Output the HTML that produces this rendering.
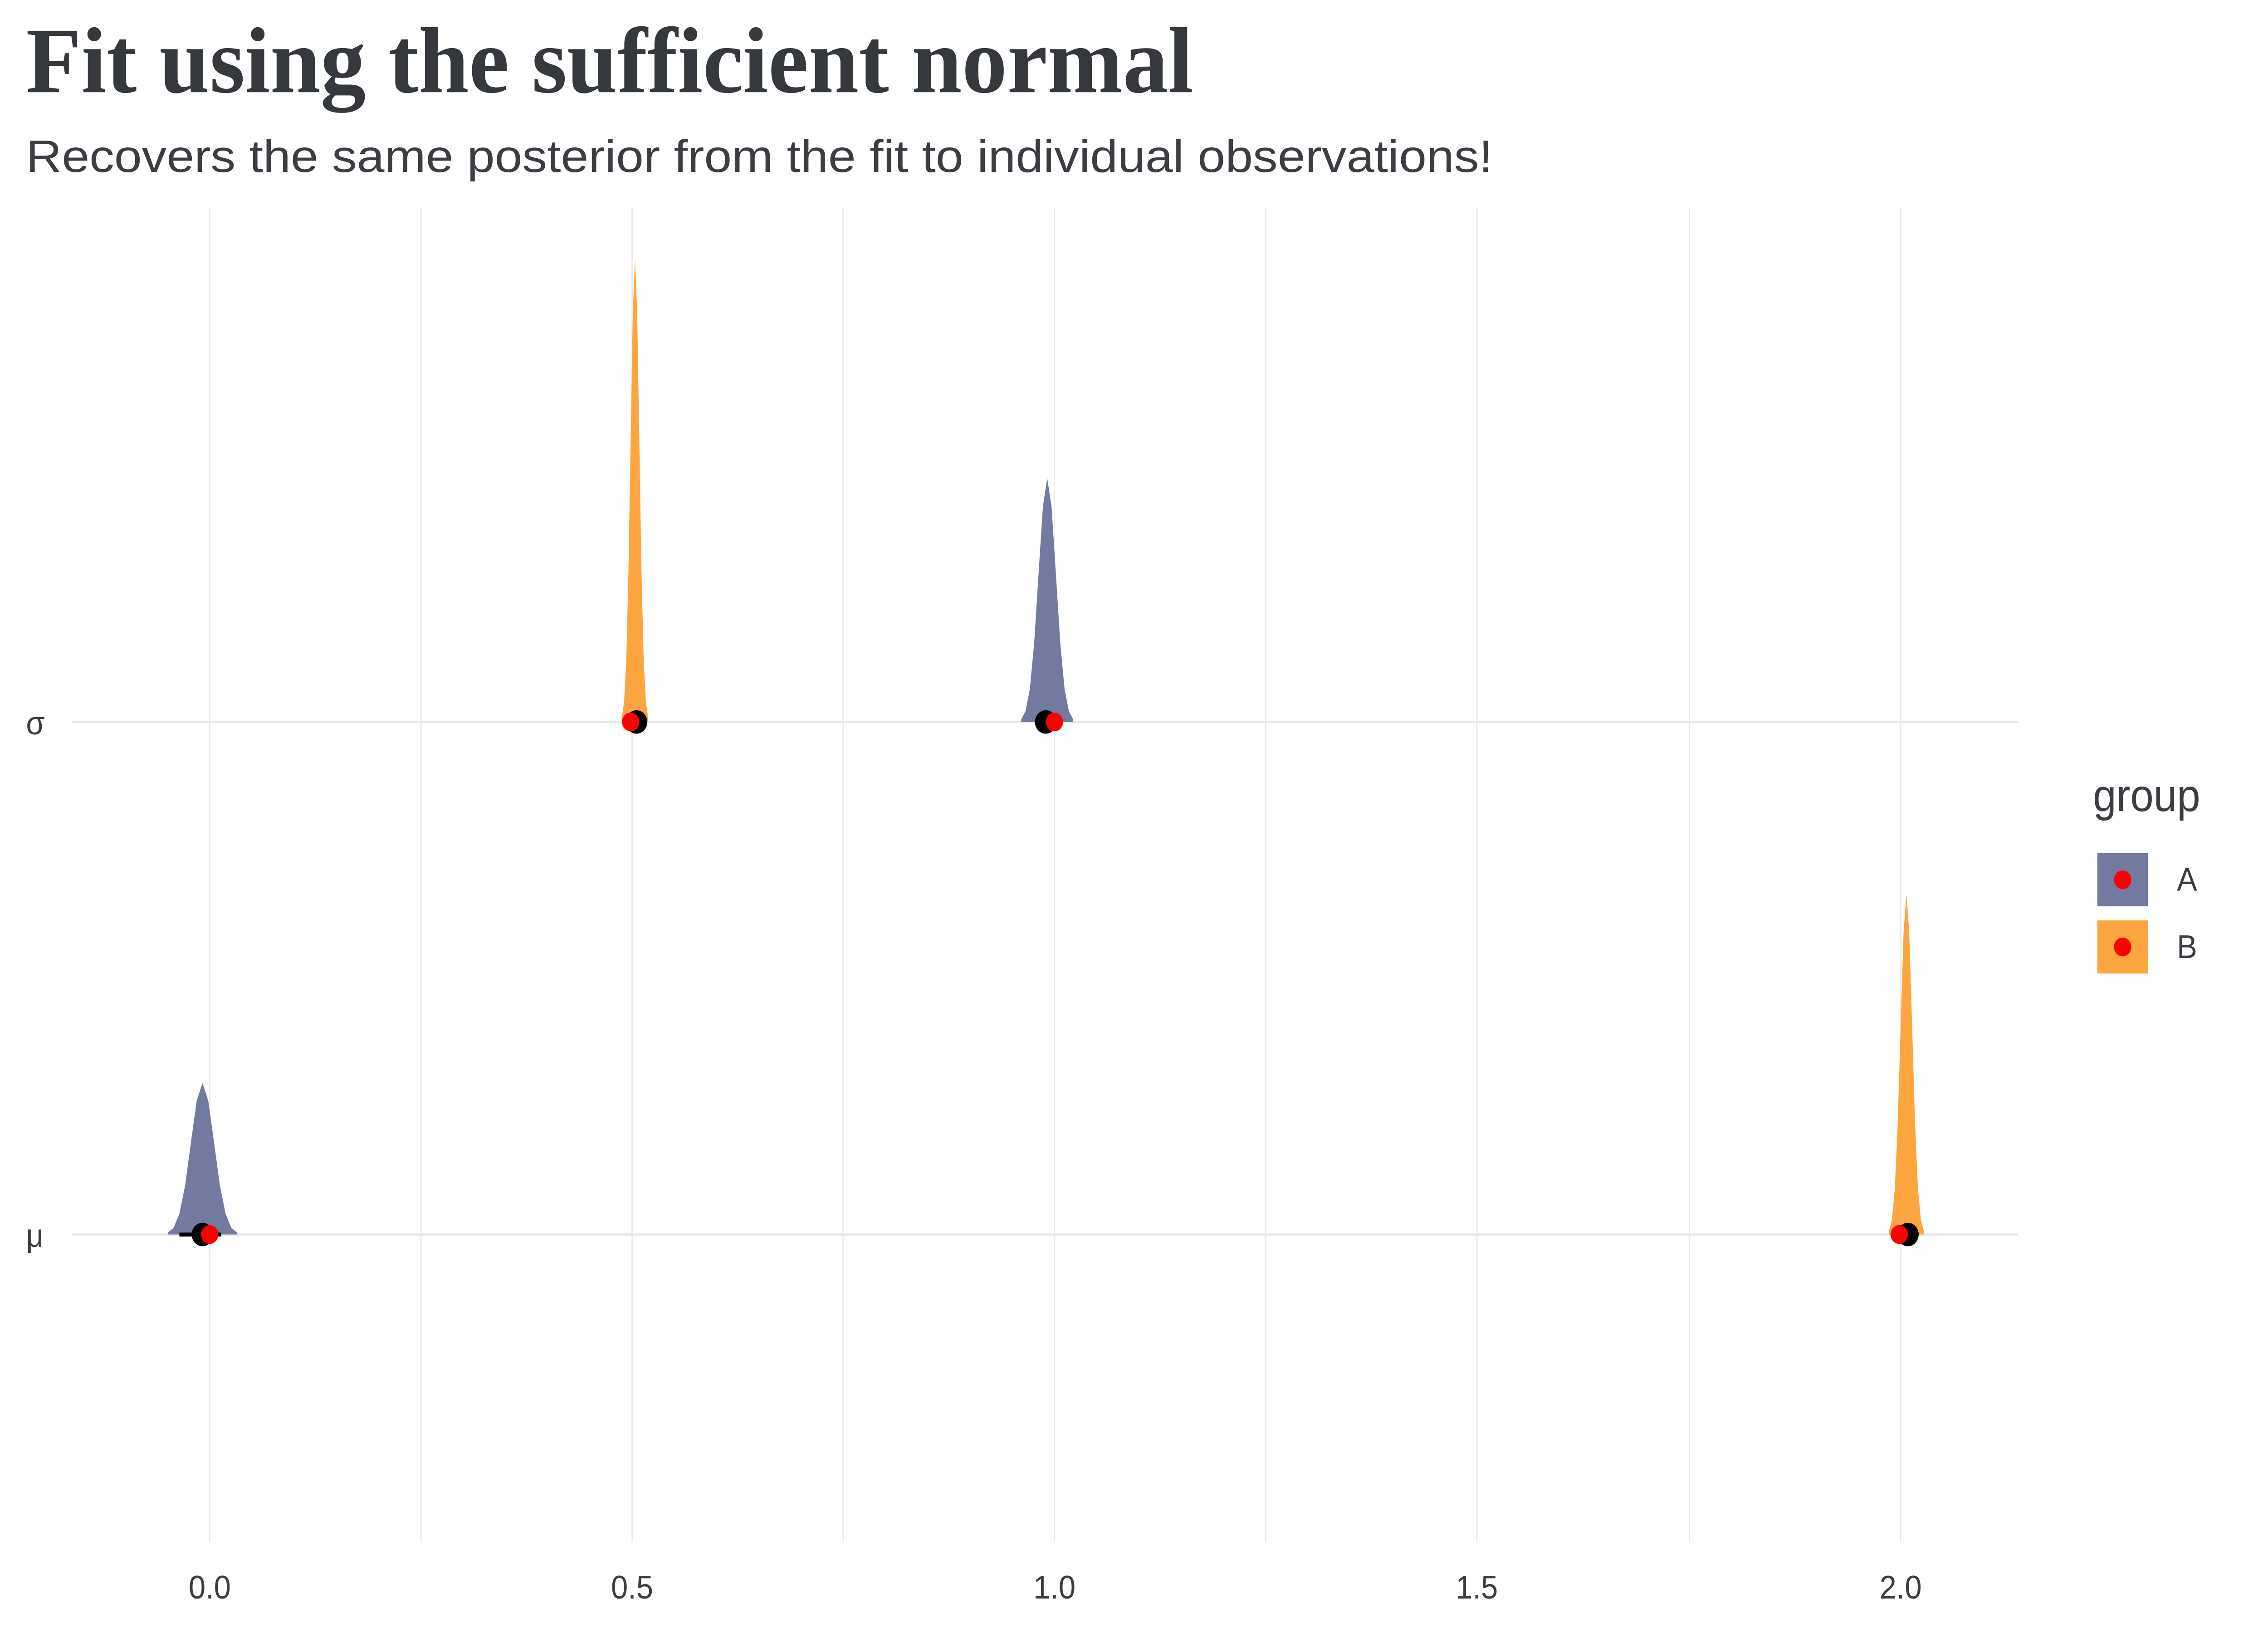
<!DOCTYPE html>
<html><head><meta charset="utf-8"><style>html,body{margin:0;padding:0;background:#fff;width:100%;height:100%;overflow:hidden}svg{display:block;width:100vw;height:100vh}</style></head>
<body>
<svg viewBox="0 0 1568 1045" preserveAspectRatio="none" xmlns="http://www.w3.org/2000/svg">
<rect width="1568" height="1045" fill="#fff"/>
<text x="18" y="59" font-family="Liberation Serif, serif" font-weight="bold" font-size="60" fill="#35383c" textLength="807" lengthAdjust="spacingAndGlyphs">Fit using the sufficient normal</text>
<text x="18" y="110" font-family="Liberation Sans, sans-serif" font-size="29" fill="#3a3d42" textLength="1014" lengthAdjust="spacingAndGlyphs">Recovers the same posterior from the fit to individual observations!</text>
<g stroke="#ebebeb" stroke-width="1">
<line x1="145" y1="133" x2="145" y2="987"/><line x1="291" y1="133" x2="291" y2="987"/><line x1="437" y1="133" x2="437" y2="987"/><line x1="583" y1="133" x2="583" y2="987"/><line x1="729" y1="133" x2="729" y2="987"/><line x1="875" y1="133" x2="875" y2="987"/><line x1="1021" y1="133" x2="1021" y2="987"/><line x1="1168" y1="133" x2="1168" y2="987"/><line x1="1314" y1="133" x2="1314" y2="987"/>
</g>
<g stroke="#e6e8eb" stroke-width="1.5">
<line x1="50" y1="462" x2="1395" y2="462"/><line x1="50" y1="790" x2="1395" y2="790"/>
</g>
<path fill="#727aa0" d="M116,790 L116,788.9 L120,785.7 L124,776.9 L128,758.5 L132,731.2 L136,704.4 L140,693 L144,704.4 L148,731.2 L152,758.5 L156,776.9 L160,785.7 L164,788.9 L164,790 Z"/>
<path fill="#727aa0" d="M706,462 L706,460.3 L709,455.2 L712,440.9 L715,411.3 L718,367.4 L721,324.3 L724,306 L727,324.3 L730,367.4 L733,411.3 L736,440.9 L739,455.2 L742,460.3 L742,462 Z"/>
<path fill="#ffa540" d="M430,462 L430,458.7 L431.5,449 L433,421.8 L434.5,365.6 L436,281.9 L437.5,199.9 L439,165 L440.5,199.9 L442,281.9 L443.5,365.6 L445,421.8 L446.5,449 L448,458.7 L448,462 Z"/>
<path fill="#ffa540" d="M1306,790 L1306,787.6 L1308,780.4 L1310,760.5 L1312,719.2 L1314,657.8 L1316,597.6 L1318,572 L1320,597.6 L1322,657.8 L1324,719.2 L1326,760.5 L1328,780.4 L1330,787.6 L1330,790 Z"/>
<line x1="124" y1="790" x2="153" y2="790" stroke="#000" stroke-width="2.5"/>
<g fill="#000"><circle cx="140" cy="790" r="7.5"/><circle cx="440" cy="462" r="7.5"/><circle cx="723" cy="462" r="7.5"/><circle cx="1319" cy="790" r="7.5"/></g>
<g fill="#ff0000"><circle cx="145" cy="790" r="6"/><circle cx="436" cy="462" r="6"/><circle cx="729" cy="462" r="6"/><circle cx="1313" cy="790" r="6"/></g>
<g font-family="Liberation Sans, sans-serif" font-size="21" fill="#3a3d42">
<text x="18" y="470">σ</text><text x="18" y="798">μ</text>
<g text-anchor="middle"><text x="145" y="1023">0.0</text><text x="437" y="1023">0.5</text><text x="729" y="1023">1.0</text><text x="1021" y="1023">1.5</text><text x="1314" y="1023">2.0</text></g>
</g>
<text x="1447" y="519" font-family="Liberation Sans, sans-serif" font-size="29" fill="#3a3d42">group</text>
<rect x="1450" y="546" width="35" height="34" fill="#727aa0"/><circle cx="1467.5" cy="563" r="6" fill="#ff0000"/>
<rect x="1450" y="589" width="35" height="34" fill="#ffa540"/><circle cx="1467.5" cy="606" r="6" fill="#ff0000"/>
<g font-family="Liberation Sans, sans-serif" font-size="21" fill="#3a3d42"><text x="1505" y="570">A</text><text x="1505" y="613">B</text></g>
</svg>
</body></html>
